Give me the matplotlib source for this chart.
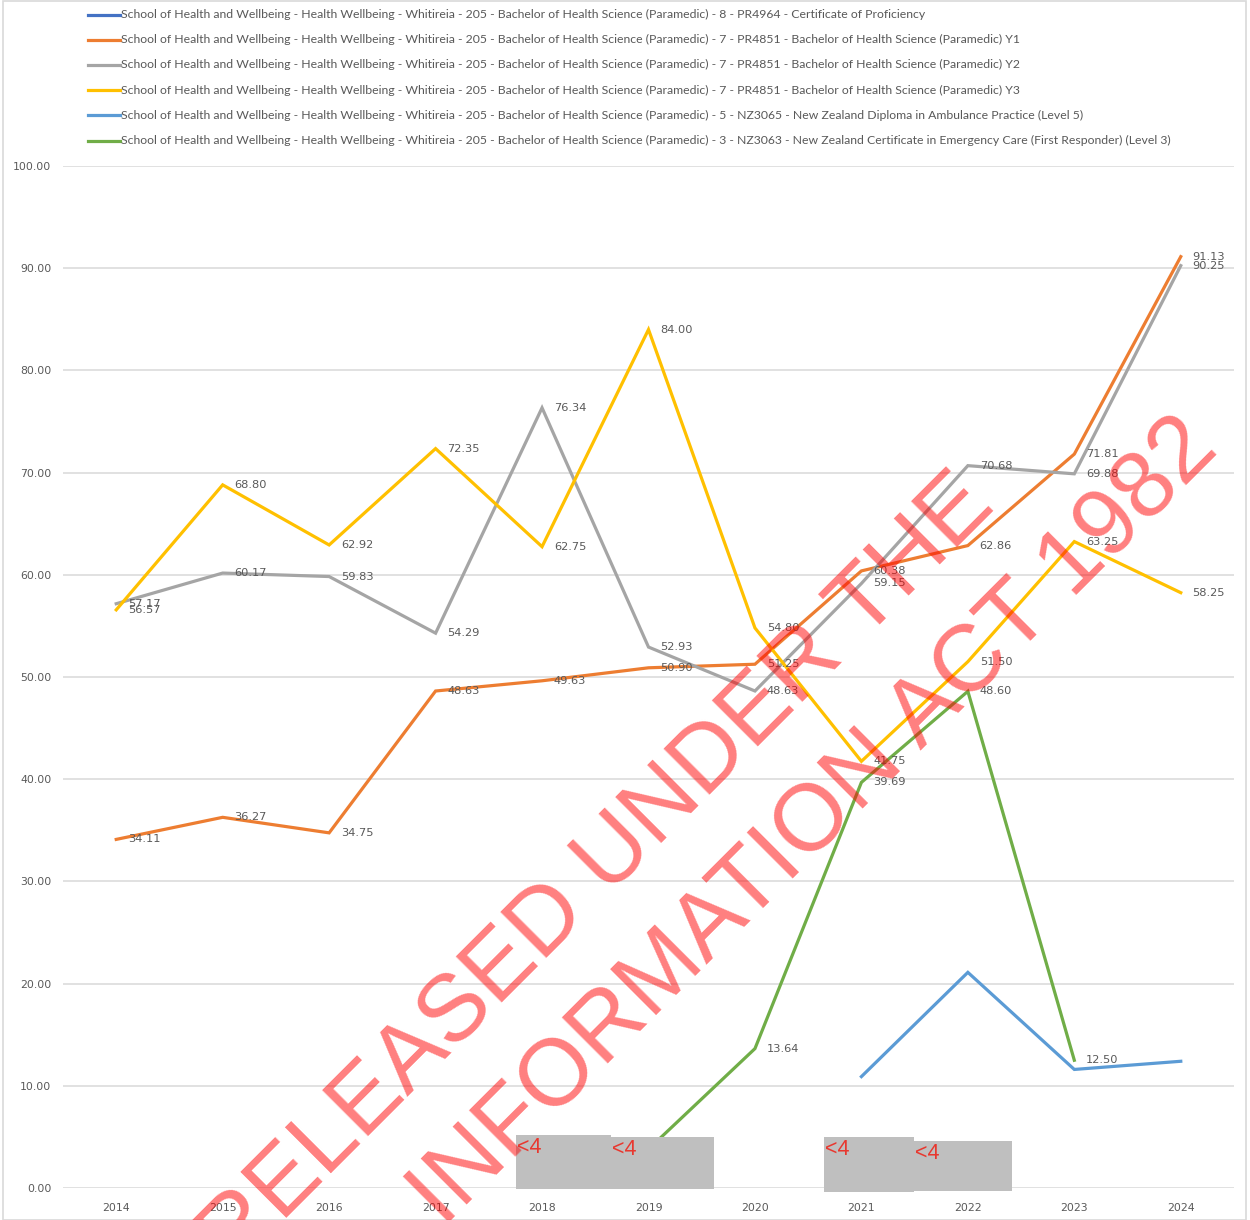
import numpy as np
import matplotlib
matplotlib.use("Agg")
import matplotlib.pyplot as plt
from matplotlib.lines import Line2D
from matplotlib.patches import Rectangle

# ---------------- data ----------------
years = ["2014", "2015", "2016", "2017", "2018", "2019", "2020", "2021", "2022", "2023", "2024"]

prefix = "School of Health and Wellbeing - Health Wellbeing - Whitireia - 205 - Bachelor of Health Science (Paramedic) - "
series_names = [
    prefix + "8 - PR4964 - Certificate of Proficiency",
    prefix + "7 - PR4851 - Bachelor of Health Science (Paramedic) Y1",
    prefix + "7 - PR4851 - Bachelor of Health Science (Paramedic) Y2",
    prefix + "7 - PR4851 - Bachelor of Health Science (Paramedic) Y3",
    prefix + "5 - NZ3065 - New Zealand Diploma in Ambulance Practice (Level 5)",
    prefix + "3 - NZ3063 - New Zealand Certificate in Emergency Care (First Responder) (Level 3)",
]

nan = np.nan
cert_proficiency = [nan, nan, nan, nan, nan, nan, nan, nan, nan, nan, nan]
bhsc_y1 = [34.11, 36.27, 34.75, 48.63, 49.63, 50.90, 51.25, 60.38, 62.86, 71.81, 91.13]
bhsc_y2 = [57.17, 60.17, 59.83, 54.29, 76.34, 52.93, 48.63, 59.15, 70.68, 69.88, 90.25]
bhsc_y3 = [56.57, 68.80, 62.92, 72.35, 62.75, 84.00, 54.80, 41.75, 51.50, 63.25, 58.25]
nz_diploma = [nan, nan, nan, nan, nan, nan, nan, 10.9, 21.1, 11.6, 12.4]
nz_cert = [nan, nan, nan, nan, nan, 3.8, 13.64, 39.69, 48.60, 12.50, nan]

series_values = [cert_proficiency, bhsc_y1, bhsc_y2, bhsc_y3, nz_diploma, nz_cert]
series_colors = ["#4472C4", "#ED7D31", "#A5A5A5", "#FFC000", "#5B9BD5", "#70AD47"]
series_show_labels = [True, True, True, True, False, True]

# redaction boxes: (x0, x1, y0, y1) in category / value units, with their "<4" text
redactions = [(3.756, 4.648, -0.05, 5.19), (4.648, 5.615, -0.05, 4.99),
              (6.648, 7.493, -0.39, 4.99), (7.493, 8.413, -0.29, 4.6)]
redaction_text = "<4"

watermark_lines = ["RELEASED UNDER THE", "INFORMATION ACT 1982"]

# ---------------- figure ----------------
W, H = 1250, 1220
fig = plt.figure(figsize=(W / 100, H / 100), dpi=100)
fig.patch.set_facecolor("white")

ax_left, ax_right = 63 / W, 1234 / W
ax_bottom, ax_top = 1 - 1188 / H, 1 - 166 / H
ax = fig.add_axes([ax_left, ax_bottom, ax_right - ax_left, ax_top - ax_bottom])
ax.set_facecolor("none")

x = np.arange(len(years))
for vals, col, show in zip(series_values, series_colors, series_show_labels):
    v = np.array(vals, dtype=float)
    ax.plot(x, v, color=col, lw=2.3, solid_joinstyle="miter", zorder=3, clip_on=False)
    if show:
        for xi, vi in zip(x, v):
            if np.isfinite(vi):
                ax.annotate(f"{vi:.2f}", (xi, vi), xytext=(8.5, 0), textcoords="offset points",
                            ha="left", va="center", fontsize=8.2, color="#595959",
                            family="DejaVu Sans", zorder=4, annotation_clip=False)

ax.set_xlim(-0.5, len(years) - 0.5)
ax.set_ylim(0, 100)
ax.set_yticks(np.arange(0, 101, 10))
ax.set_yticklabels([f"{t:.2f}" for t in np.arange(0, 101, 10)])
ax.set_xticks(x)
ax.set_xticklabels(years)
ax.tick_params(axis="both", length=0, labelsize=7.8, labelcolor="#595959")
ax.tick_params(axis="y", pad=8.5)
ax.tick_params(axis="x", pad=10.5)
ax.grid(axis="y", color="#D9D9D9", lw=1.1, zorder=0)
ax.set_axisbelow(True)
for s in ax.spines.values():
    s.set_visible(False)

# redaction boxes
for (x0, x1, y0, y1) in redactions:
    ax.add_patch(Rectangle((x0, y0), x1 - x0, y1 - y0, facecolor="#BFBFBF", edgecolor="none",
                           zorder=6, clip_on=False))
    ax.text(x0 + 0.01, y1 - 0.2, redaction_text, ha="left", va="top", fontsize=15.5,
            color="#E8382F", family="Liberation Sans", zorder=7, clip_on=False)

# legend (manual, figure pixels)
leg_y0, leg_dy = 14.5, 25.2
renderer = fig.canvas.get_renderer()
probe = fig.text(0, 0, series_names[-1], fontsize=10, family="Lato")
wpx = probe.get_window_extent(renderer).width
probe.remove()
leg_fs = 10 * (1168 - 121) / wpx
for i, (name, col) in enumerate(zip(series_names, series_colors)):
    yy = 1 - (leg_y0 + i * leg_dy) / H
    fig.add_artist(Line2D([88 / W, 120 / W], [yy, yy], color=col, lw=2.3, transform=fig.transFigure))
    fig.text(121 / W, yy, name, fontsize=leg_fs, family="Lato", color="#595959", ha="left", va="center")

# chart border
fig.add_artist(Rectangle((3 / W, 0.5 / H), 1243 / W, (H - 1) / H, transform=fig.transFigure,
                         facecolor="none", edgecolor="#D9D9D9", lw=1.2))

# watermark
wm_centers = [(598, 872), (815, 822)]
for txt, (cx, cy) in zip(watermark_lines, wm_centers):
    fig.text(cx / W, 1 - cy / H, txt, fontsize=68, family="Liberation Sans", color="#FF0000",
             alpha=0.5, rotation=45, rotation_mode="anchor", ha="center", va="center", zorder=10)

fig.savefig("out.png", dpi=100)
